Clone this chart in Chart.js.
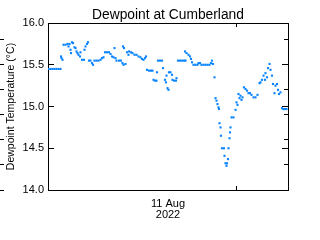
<!DOCTYPE html>
<html>
<head>
<meta charset="utf-8">
<script src="https://cdn.jsdelivr.net/npm/chart.js"></script>
<style>
html, body { margin: 0; padding: 0; background: #fff; }
canvas { display: block; }
</style>
</head>
<body>
<canvas id="dewpoint-chart" width="320" height="240"></canvas>
<script>
// hours since start of record, dewpoint in deg C
var hours = [0.1, 0.5, 0.9, 1.3, 1.7, 2.1, 2.5, 2.6, 2.7, 2.9, 3.1, 3.5, 3.9, 4.1, 4.3, 4.5, 4.6, 4.8, 5.0, 5.3,
    5.5, 5.7, 5.9, 6.1, 6.4, 6.5, 6.8, 7.2, 7.3, 7.5, 7.8, 8.0, 8.2, 8.5, 8.8, 9.0, 9.3, 9.7, 10.1, 10.5,
    10.8, 11.1, 11.4, 11.8, 12.2, 12.5, 12.8, 13.1, 13.3, 13.5, 13.7, 14.2, 14.6, 14.9, 15.0, 15.1, 15.2, 15.5, 15.8, 16.1,
    16.2, 16.6, 16.9, 17.3, 17.7, 18.1, 18.5, 18.8, 19.1, 19.4, 19.6, 19.8, 20.2, 20.6, 20.9, 21.1, 21.4, 21.7, 21.8, 22.0,
    22.4, 22.8, 23.0, 23.4, 23.6, 23.7, 23.9, 24.1, 24.2, 24.5, 24.8, 24.9, 25.2, 25.6, 25.7, 26.0, 26.4, 26.8, 27.2, 27.4,
    27.5, 27.7, 28.1, 28.4, 28.6, 28.8, 29.1, 29.5, 29.9, 30.1, 30.4, 30.7, 31.1, 31.5, 31.9, 32.3, 32.6, 32.8, 33.0, 33.3,
    33.5, 33.7, 33.9, 34.1, 34.2, 34.3, 34.5, 34.6, 34.8, 35.2, 35.3, 35.5, 35.7, 35.8, 36.0, 36.1, 36.3, 36.4, 36.5, 36.7,
    37.1, 37.5, 37.7, 37.9, 38.1, 38.3, 38.5, 38.7, 38.9, 39.2, 39.5, 39.8, 40.1, 40.4, 40.7, 41.1, 41.5, 41.9, 42.3, 42.5,
    42.8, 43.1, 43.4, 43.5, 43.8, 44.0, 44.3, 44.5, 44.8, 45.0, 45.3, 45.5, 45.8, 46.0, 46.2, 46.5, 46.8, 47.1, 47.4, 47.7];
var dewpoint = [15.45, 15.45, 15.45, 15.45, 15.45, 15.45, 15.45, 15.60, 15.58, 15.56, 15.74, 15.74, 15.75, 15.72, 15.75, 15.68, 15.64, 15.77, 15.76, 15.71,
    15.70, 15.66, 15.64, 15.62, 15.60, 15.65, 15.56, 15.56, 15.68, 15.72, 15.75, 15.77, 15.55, 15.55, 15.52, 15.50, 15.55, 15.55, 15.55, 15.56,
    15.58, 15.59, 15.65, 15.65, 15.65, 15.63, 15.60, 15.59, 15.70, 15.58, 15.55, 15.55, 15.55, 15.52, 15.72, 15.50, 15.70, 15.51, 15.65, 15.62,
    15.66, 15.65, 15.64, 15.62, 15.62, 15.60, 15.59, 15.57, 15.56, 15.58, 15.60, 15.44, 15.43, 15.43, 15.43, 15.32, 15.31, 15.31, 15.41, 15.55,
    15.55, 15.55, 15.46, 15.32, 15.29, 15.37, 15.22, 15.20, 15.41, 15.41, 15.38, 15.32, 15.31, 15.31, 15.34, 15.55, 15.55, 15.55, 15.55, 15.66,
    15.55, 15.64, 15.62, 15.60, 15.57, 15.53, 15.50, 15.50, 15.50, 15.52, 15.52, 15.50, 15.50, 15.50, 15.50, 15.50, 15.52, 15.55, 15.51, 15.35,
    15.10, 15.07, 15.03, 14.99, 14.97, 14.80, 14.75, 14.65, 14.50, 14.50, 14.41, 14.32, 14.29, 14.32, 14.37, 14.50, 14.62, 14.69, 14.75, 14.87,
    14.87, 14.96, 15.05, 15.02, 15.15, 15.10, 15.13, 15.08, 15.11, 15.23, 15.21, 15.19, 15.16, 15.16, 15.14, 15.11, 15.11, 15.14, 15.28, 15.29,
    15.32, 15.37, 15.32, 15.40, 15.35, 15.46, 15.51, 15.44, 15.37, 15.27, 15.16, 15.25, 15.27, 15.20, 15.15, 15.17, 14.98, 14.97, 14.97, 14.97];

var yTicks = [14.0, 14.5, 15.0, 15.5, 16.0];
var dateLabel = ['11 Aug', '2022'];
var dateLabelHour = 24;
var midnightHour = 37.6;

var fontFamily = "'Liberation Sans', Arial, sans-serif";

var points = hours.map(function (h, i) {
    return { x: h, y: dewpoint[i] };
});

function majorTicks(s) {
    s.ticks = yTicks.map(function (v) { return { value: v }; });
}
function minorTicks(s) {
    s.ticks = [];
    for (var v = 140; v <= 160; v++) s.ticks.push({ value: v / 10 });
}
function timeTicks(s) {
    s.ticks = [{ value: dateLabelHour }, { value: midnightHour }];
}
// only the midnight tick gets a mark, the date label has none
function timeTickColor(c) {
    return c.tick && c.tick.value === midnightHour ? '#000' : 'rgba(0,0,0,0)';
}
function noLabel() { return ''; }

// negative tickLength puts the tick marks inside the plot box
function sideAxis(position, buildTicks, len, withBorder) {
    return {
        type: 'linear',
        position: position,
        min: 14,
        max: 16,
        grid: { display: true, drawOnChartArea: false, tickLength: len, color: '#000', lineWidth: 1 },
        border: { display: withBorder, color: '#000', width: 1 },
        afterBuildTicks: buildTicks,
        afterFit: function (s) { s.width = 0; },
        ticks: { callback: noLabel }
    };
}

var ctx = document.getElementById('dewpoint-chart').getContext('2d');
var chart = new Chart(ctx, {
    type: 'scatter',
    data: {
        datasets: [{
            data: points,
            showLine: false,
            pointStyle: 'rect',
            pointRadius: 1.5,
            pointBorderWidth: 0,
            backgroundColor: '#0a84ff'
        }]
    },
    options: {
        responsive: false,
        animation: false,
        devicePixelRatio: 1,
        layout: { padding: { left: 0, right: 32, top: 0, bottom: 0 } },
        plugins: {
            legend: { display: false },
            tooltip: { enabled: false },
            title: {
                display: true,
                fullSize: false,
                text: 'Dewpoint at Cumberland',
                color: '#000',
                font: { family: fontFamily, size: 13.8, weight: 'normal', lineHeight: 1.2 },
                padding: { top: 6.5, bottom: 0 }
            }
        },
        scales: {
            x: {
                type: 'linear',
                position: 'bottom',
                min: 0,
                max: 48,
                grid: { display: true, drawOnChartArea: false, tickLength: -4, color: timeTickColor },
                border: { display: true, color: '#000', width: 1 },
                afterBuildTicks: timeTicks,
                afterFit: function (s) { s.height = 50; },
                ticks: {
                    autoSkip: false,
                    maxRotation: 0,
                    padding: 12,
                    color: '#000',
                    font: { family: fontFamily, size: 11, lineHeight: 1.0 },
                    callback: function (value) {
                        return value === dateLabelHour ? dateLabel : '';
                    }
                }
            },
            x2: {
                type: 'linear',
                position: 'top',
                min: 0,
                max: 48,
                grid: { display: true, drawOnChartArea: false, tickLength: -4, color: timeTickColor },
                border: { display: true, color: '#000', width: 1 },
                afterBuildTicks: timeTicks,
                afterFit: function (s) { s.height = 0; },
                ticks: { autoSkip: false, maxRotation: 0, callback: noLabel }
            },
            y: {
                type: 'linear',
                position: 'left',
                min: 14,
                max: 16,
                grid: { display: true, drawOnChartArea: false, tickLength: -6, color: '#000', lineWidth: 1 },
                border: { display: true, color: '#000', width: 1 },
                afterBuildTicks: majorTicks,
                afterFit: function (s) { s.width = 48; },
                ticks: {
                    padding: 10,
                    color: '#000',
                    font: { family: fontFamily, size: 11 },
                    callback: function (value) { return value.toFixed(1); }
                },
                title: {
                    display: true,
                    text: 'Dewpoint Temperature (°C)',
                    color: '#000',
                    font: { family: fontFamily, size: 10.5 },
                    padding: { top: 5, bottom: 0 }
                }
            },
            yMinor: sideAxis('left', minorTicks, -4, false),
            yRight: sideAxis('right', majorTicks, -6, true),
            yRightMinor: sideAxis('right', minorTicks, -4, false)
        }
    }
});
</script>
</body>
</html>
